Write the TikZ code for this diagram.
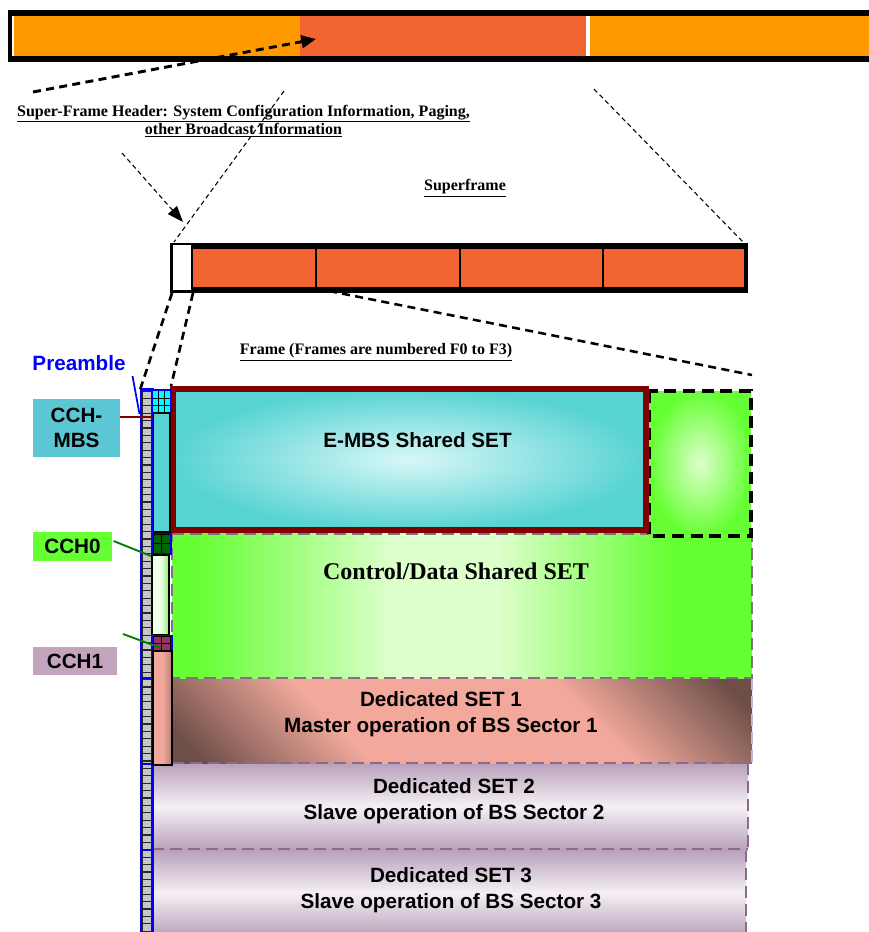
\documentclass[tikz,border=0pt]{standalone}
\usepackage{fontspec}
\setmainfont{Liberation Serif}
\setsansfont{Liberation Sans}
\usetikzlibrary{arrows.meta}
\definecolor{orng}{HTML}{FF9900}
\definecolor{redo}{HTML}{F26531}
\definecolor{cyanA}{HTML}{58D3D3}
\definecolor{cyanL}{HTML}{D8F7F7}
\definecolor{cygrid}{HTML}{00FFFF}
\definecolor{grnA}{HTML}{66FF33}
\definecolor{grnL}{HTML}{DDFFCC}
\definecolor{grnM}{HTML}{88F070}
\definecolor{dkgrn}{HTML}{006600}
\definecolor{salm}{HTML}{F2A99C}
\definecolor{brwn}{HTML}{6E4F48}
\definecolor{mauv}{HTML}{B9A0BA}
\definecolor{mauL}{HTML}{F5F0F4}
\definecolor{dashm}{HTML}{8C6A8C}
\definecolor{lavd}{HTML}{B8B8E8}
\definecolor{dred}{HTML}{800000}
\definecolor{lblcy}{HTML}{5BC6D4}
\definecolor{lblmv}{HTML}{C4A4BC}
\definecolor{pinkg}{HTML}{993366}
\definecolor{cchline}{HTML}{008000}
\pgfdeclarehorizontalshading{dedone}{100bp}{color(0bp)=(brwn); color(18bp)=(brwn); color(36bp)=(salm); color(64bp)=(salm); color(82bp)=(brwn); color(100bp)=(brwn)}
\pgfdeclarehorizontalshading{cdshade}{100bp}{color(0bp)=(grnA); color(25bp)=(grnA); color(27bp)=(grnA); color(44bp)=(grnL); color(53bp)=(grnL); color(68bp)=(grnA); color(100bp)=(grnA)}
\pgfdeclarehorizontalshading{lgshade}{100bp}{color(0bp)=(grnL!50!white); color(25bp)=(grnL!50!white); color(50bp)=(grnL!40!white); color(75bp)=(grnM); color(100bp)=(grnM)}
\pgfdeclarehorizontalshading{slshade}{100bp}{color(0bp)=(salm); color(50bp)=(salm); color(75bp)=(salm!55!brwn); color(100bp)=(salm!55!brwn)}
\begin{document}
\begin{tikzpicture}[x=0.75pt,y=-0.75pt,
  serif/.style={font=\bfseries\fontsize{12}{13.5}\selectfont, inner sep=0, align=center},
  sanslbl/.style={font=\sffamily\bfseries\fontsize{15.5}{19.5}\selectfont, inner sep=0, align=center},
  lblbox/.style={sanslbl, font=\sffamily\bfseries\fontsize{15.5}{18.5}\selectfont},
  thindash/.style={draw=black, line width=0.8pt, dash pattern=on 3.5pt off 2.5pt},
  thickdash/.style={draw=black, line width=2.2pt, dash pattern=on 6pt off 4pt},
  middash/.style={draw=black, line width=1.9pt, dash pattern=on 6pt off 4pt},
  mvdash/.style={draw=dashm, line width=2.2pt, dash pattern=on 9pt off 4.5pt},
  cell/.style={fill=gray!45, draw=black!85, line width=0.8pt},
  gridln/.style={draw=black, line width=0.6pt},
  cchbox/.style={draw=black, line width=1.2pt}
]
\useasboundingbox (0,0) rectangle (868,932);

% ---------- top bar ----------
\fill[orng] (14,16) rectangle (300,56);
\fill[redo] (300,16) rectangle (586,56);
\fill[orng] (590,16) rectangle (872,56);
\fill[black] (9,10) rectangle (872,16);
\fill[black] (9,56) rectangle (872,62);
\fill[black] (8,10) rectangle (11.5,62);

% ---------- superframe bar ----------
\fill[black] (170,242.5) rectangle (748,293);
\fill[white] (172.5,245) rectangle (190.5,289.5);
\fill[redo] (192.5,249) rectangle (315,287);
\fill[redo] (317,249) rectangle (459,287);
\fill[redo] (461,249) rectangle (602,287);
\fill[redo] (604,249) rectangle (744,287);

% ---------- frame regions ----------
% Dedicated SET 3
\shade[top color=mauv, bottom color=mauv, middle color=mauL] (152,850) rectangle (746,936);
\draw[mvdash] (152,850) -- (746,850) -- (746,936);
% Dedicated SET 2
\shade[top color=mauv, bottom color=mauv, middle color=mauL] (152,763) rectangle (748,850);
\draw[mvdash] (748,763) -- (748,850);
\draw[mvdash] (152,849) -- (748,849);
% Dedicated SET 1
\shade[shading=dedone, shading angle=45] (172,678) rectangle (752,763);
\draw[draw=lavd, line width=2pt, dash pattern=on 9pt off 4.5pt] (752,678) -- (752,763);
\draw[mvdash] (172,763) -- (752,763);
% Control/Data Shared SET
\shade[shading=cdshade] (172,533) rectangle (752,678);
\draw[mvdash] (172,534) -- (752,534) -- (752,678) -- (172,678) -- cycle;
% dashed green box
\shade[inner color=grnL, outer color=grnA] (649,391) rectangle (751,536);
\draw[black, line width=3pt, dash pattern=on 9pt off 5pt] (649,391) rectangle (751,536);
% E-MBS Shared SET
\shade[inner color=cyanL, outer color=cyanA] (173,389) rectangle (646,530);
\draw[dred, line width=4.5pt] (173,389) rectangle (646,530);

% ---------- preamble column ----------
\foreach \i in {0,...,73} {
  \draw[cell] (142.3,{391+7.4*\i}) rectangle (151.2,{391+7.4*(\i+1)});
}
\draw[blue, line width=1.8pt] (140.8,936) -- (140.8,389.5) -- (152.4,389.5) -- (152.4,936);
\foreach \yy in {678,764,850} {
  \draw[blue, line width=1.6pt] (140.8,\yy) -- (152.4,\yy);
}

% ---------- CCH column ----------
% cyan grid
\fill[cygrid] (153,391) rectangle (170,412);
\foreach \k in {1,2} {
  \draw[gridln] ({153+17/3*\k},391) -- ({153+17/3*\k},412);
  \draw[gridln] (153,{391+7*\k}) -- (170,{391+7*\k});
}
\draw[blue, line width=1.3pt] (152.4,390) rectangle (171,413);
\draw[cchbox, fill=cyanA] (153.5,413) rectangle (170,532);
% green grid
\fill[dkgrn] (153,534) rectangle (170,553);
\draw[gridln] (161.5,534) -- (161.5,553);
\draw[gridln] (153,543.5) -- (170,543.5);
\draw[gridln] (153,534) rectangle (170,553);
\draw[blue, line width=1.3pt] (152.4,533.5) rectangle (171,554);
\shade[shading=lgshade] (152,555) rectangle (169,635);
\draw[cchbox] (152,555) rectangle (169,635);
% mauve grid
\fill[pinkg] (153,636) rectangle (170,650);
\draw[gridln] (161.5,636) -- (161.5,650);
\draw[gridln] (153,643) -- (170,643);
\draw[gridln] (153,636) rectangle (170,650);
\draw[blue, line width=1.3pt] (152.4,635.5) rectangle (172,660);
\shade[shading=slshade] (153,651) rectangle (172,765);
\draw[cchbox] (153,651) rectangle (172,765);

% ---------- labels ----------
\node[serif] (sfh) at (243.5,121) {\underline{Super-Frame Header: System Configuration Information, Paging,}\\\underline{other Broadcast Information}};
\node[serif] (sfl) at (465,188) {\underline{Superframe}};
\node[serif] (frl) at (376,352) {\underline{Frame (Frames are numbered F0 to F3)}};

\node[sanslbl] (emb) at (417.5,440) {E-MBS Shared SET};
\node[serif, font=\bfseries\fontsize{18}{20}\selectfont] (cds) at (456,571) {Control/Data Shared SET};
\node[sanslbl] (ds1) at (441,714) {Dedicated SET 1\\Master operation of BS Sector 1};
\node[sanslbl] (ds2) at (454,801) {Dedicated SET 2\\Slave operation of BS Sector 2};
\node[sanslbl] (ds3) at (451,890.5) {Dedicated SET 3\\Slave operation of BS Sector 3};

\node[sanslbl, text=blue] (pre) at (79,363) {Preamble};
\node[lblbox, fill=lblcy, minimum width=65.3pt, minimum height=43.5pt] (mbs) at (76.5,428) {CCH-\\MBS};
\node[lblbox, fill=grnA, minimum width=58.9pt, minimum height=21.6pt] (c0) at (72.5,546.5) {CCH0};
\node[lblbox, fill=lblmv, minimum width=62.5pt, minimum height=21pt] (c1) at (75,661) {CCH1};

% ---------- connectors ----------
\coordinate (preS) at (132.5,376);
\coordinate (preE) at (139.5,414);
\draw[blue, line width=1.3pt] (preS) -- (preE);
\coordinate (mbsE) at (153,417);
\draw[dred, line width=1.6pt] (mbs.east |- mbsE) -- (mbsE);
\coordinate (c0E) at (151,556);
\draw[cchline, line width=1.4pt] ([shift={(1.5,-5.5)}]c0.east) -- (c0E);
\coordinate (c1S) at (123,634);
\coordinate (c1E) at (161,648);
\draw[cchline, line width=1.4pt] (c1S) -- (c1E);

\coordinate (hdrS) at (33,92);
\coordinate (hdrE) at (316,39);
\draw[thickdash, -{Triangle[length=11pt,width=9.5pt]}] (hdrS) -- (hdrE);

\coordinate (arS) at (122,153);
\coordinate (arE) at (183,222);
\draw[thindash, -{Triangle[length=12pt,width=9pt]}] (arS) -- (arE);

\coordinate (zlA) at (284,91);
\coordinate (zlB) at (174,242);
\draw[thindash] (zlA) -- (zlB);
\coordinate (zrA) at (594,89);
\coordinate (zrB) at (743,242);
\draw[thindash] (zrA) -- (zrB);

\coordinate (f1A) at (172,293);
\coordinate (f1B) at (140,390);
\draw[thickdash, line width=2pt] (f1A) -- (f1B);
\coordinate (f2A) at (193,293);
\coordinate (f2B) at (171,386);
\draw[thickdash, line width=2pt] (f2A) -- (f2B);
\coordinate (f3A) at (329,291);
\coordinate (f3B) at (752,375);
\draw[middash] (f3A) -- (f3B);
\end{tikzpicture}
\end{document}
